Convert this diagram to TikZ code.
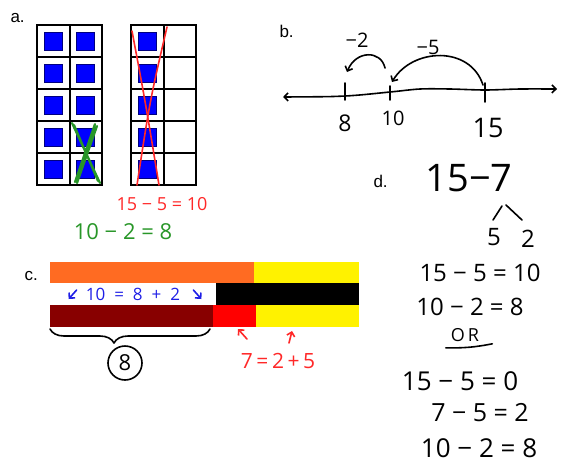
\documentclass[tikz,border=0pt]{standalone}
\usepackage{fontspec}
\setmainfont{Liberation Sans}
\newfontfamily\handfont{Open Sans}
\usetikzlibrary{arrows.meta,positioning,calc,decorations.pathreplacing}
\definecolor{penred}{RGB}{255,40,40}
\definecolor{pengreen}{RGB}{40,150,40}
\definecolor{penblue}{RGB}{30,30,230}
\definecolor{barorange}{RGB}{255,107,34}
\definecolor{bardark}{RGB}{136,0,0}
\definecolor{tileblue}{RGB}{0,0,255}
\definecolor{tileedge}{RGB}{0,0,128}

\begin{document}
\begin{tikzpicture}[x=1pt,y=-1pt,>={Straight Barb[length=4pt,width=8pt]},
   tag/.style={anchor=base west,font=\fontsize{17}{17}\selectfont},
   hand/.style={font=\handfont\fontsize{#1}{#1}\selectfont,inner sep=1pt},
   frame/.style={draw=black,line width=2pt},
   tile/.style={fill=tileblue,draw=tileedge,line width=0.8pt},
   ink/.style={line width=1.6pt,line cap=round,line join=round}]
  \useasboundingbox (0,0) rectangle (569,472);

  % a. ten frames
  \node[tag] (la) at (7,22) {a.};
  \foreach \fx in {37,131}{
    \foreach \r in {0,...,4}{
      \foreach \c in {0,1}
        \draw[frame] ({\fx+\c*32.5},{25+\r*32}) rectangle +(32.5,32);
    }
  }
  \foreach \r in {0,...,4}{
    \foreach \c in {0,1}
      \draw[tile] ({37+\c*32.5+7},{25+\r*32+7}) rectangle +(18,18);
    \draw[tile] (138,{25+\r*32+7}) rectangle +(18,18);
  }
  \draw[ink,pengreen,line width=2.2pt] (72,123) -- (100,183) (74,125) -- (98,181)
    (95,124) -- (75,182) (97,126) -- (77,183);
  \draw[ink,penred] (132,31) .. controls (145,100) .. (159,185);
  \draw[ink,penred] (167,27) .. controls (150,100) .. (137,185);
  \node[hand=18,text=penred] (sumA) at (162,204) {15 − 5 = 10};
  \node[hand=22,text=pengreen] (sumB) at (123,232) {10 − 2 = 8};

  % b. number line
  \node[tag] (lb) at (276,37) {b.};
  \draw[ink,<->] plot[smooth] coordinates {(283,97) (345,96) (390,92) (420,89) (450,89) (485,90) (520,89) (557,89)};
  \coordinate (t8) at (345,96);
  \coordinate (t10) at (390,92);
  \coordinate (t15) at (485,90);
  \draw[ink] (t8) ++(0,-13) -- ++(0,17);
  \draw[ink] (t10) ++(0,-6) -- ++(0,14);
  \draw[ink] (t15) ++(0,-7) -- ++(0,19);
  \node[hand=23] (n8) at (345,123) {8};
  \node[hand=20] (n10) at (393,118) {10};
  \node[hand=27] (n15) at (488,128) {15};
  \coordinate (jumpA) at (385,68);
  \coordinate (jumpB) at (483,85);
  \draw[ink,->] (jumpA) .. controls (381,50) and (356,50) .. (347,72);
  \draw[ink,->] (jumpB) .. controls (470,45) and (412,48) .. (392,82);
  \node[hand=20] (m2) at (357,40) {−2};
  \node[hand=20] (m5) at (428,47) {−5};

  % c. bars
  \node[tag] (lc) at (21,280) {c.};
  \fill[barorange] (50,262) rectangle (254,283);
  \fill[yellow] (254,262) rectangle (359,283);
  \fill[black] (216,283) rectangle (359,305);
  \fill[bardark] (50,305) rectangle (213,327);
  \fill[red] (213,305) rectangle (256,327);
  \fill[yellow] (256,305) rectangle (359,327);
  \node[hand=17,text=penblue] (split) at (133,294) {10\hspace{9pt}=\hspace{9pt}8\hspace{9pt}+\hspace{9pt}2};
  \draw[ink,penblue,->] (split.west) ++(-8,-4) -- ++(-8,9);
  \draw[ink,penblue,->] (split.east) ++(12,-4) -- ++(8,9);
  \draw[ink,decorate,decoration={brace,mirror,amplitude=14pt,aspect=0.4}] (50,329) -- (210,329);
  \node[draw,circle,line width=1.6pt,minimum size=34pt,inner sep=0pt,hand=22] (eight) at (125,363) {8};
  \node[hand=21,text=penred] (parts) at (278,361) {7\,=\,2\,+\,5};
  \draw[ink,penred,->] (247,339) -- (238,329);
  \draw[ink,penred,->] (289,343) -- (292,331);

  % d. decomposing
  \node[tag] (ld) at (370,187) {d.};
  \node[hand=38] (prob) at (469,178) {15−7};
  \coordinate (forkL) at (502,206);
  \coordinate (forkR) at (506,205);
  \coordinate (fiveTop) at (493,220);
  \coordinate (twoTop) at (522,220);
  \node[hand=24] (five) at (494,237) {5};
  \node[hand=24] (two) at (528,239) {2};
  \draw[ink] (forkL) -- (fiveTop);
  \draw[ink] (forkR) -- (twoTop);
  \node[hand=24] (rowA) at (480,273) {15 − 5 = 10};
  \node[hand=24] (rowB) at (470,307) {10 − 2 = 8};
  \node[hand=18] (orr) at (465,335) {O\hspace{3pt}R};
  \draw[ink] ($(orr.south west)+(-4,5)$) to[bend right=6] ($(orr.south east)+(12,1)$);
  \node[hand=26] (rowC) at (460,381) {15 − 5 = 0};
  \node[hand=25] (rowD) at (480,413) {7 − 5 = 2};
  \node[hand=26] (rowE) at (479,448) {10 − 2 =  8};
\end{tikzpicture}
\end{document}
